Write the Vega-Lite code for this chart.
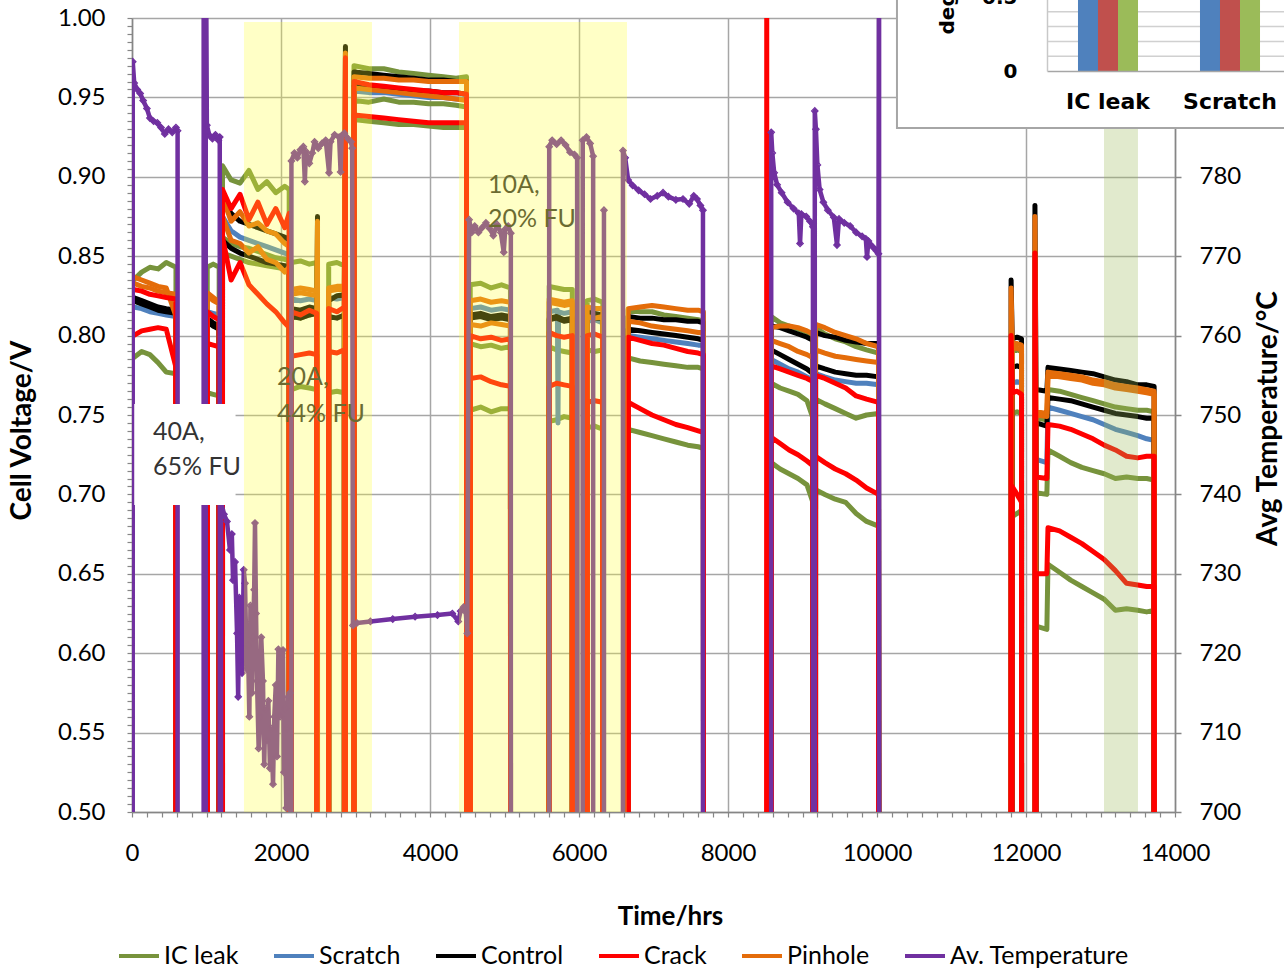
{
"$schema":"https://vega.github.io/schema/vega-lite/v6.json",
"width":1043,"height":794,
"autosize":{"type":"none"},
"padding":{"left":132,"top":18,"right":109,"bottom":159},
"background":"white",
"config":{"view":{"stroke":null},"font":"Lato"},
"datasets":{
"ICa":[{"t":20,"v":0.835},{"t":130,"v":0.840},{"t":240,"v":0.843},{"t":350,"v":0.842},{"t":460,"v":0.846},{"t":590,"v":0.843},{"t":800,"v":-100},
{"t":1010,"v":0.843},{"t":1090,"v":0.845},{"t":1170,"v":0.843},{"t":1190,"v":-100},
{"t":1215,"v":0.907},{"t":1330,"v":0.898},{"t":1450,"v":0.896},{"t":1570,"v":0.904},{"t":1690,"v":0.892},{"t":1810,"v":0.897},{"t":1930,"v":0.890},{"t":2050,"v":0.894},{"t":2110,"v":0.892},{"t":2125,"v":-100},
{"t":2140,"v":0.846},{"t":2260,"v":0.847},{"t":2380,"v":0.845},{"t":2480,"v":0.846},{"t":2560,"v":-100},
{"t":2640,"v":0.845},{"t":2750,"v":0.846},{"t":2850,"v":0.844},{"t":2920,"v":-100},
{"t":2980,"v":0.970},{"t":3180,"v":0.968},{"t":3380,"v":0.968},{"t":3580,"v":0.966},{"t":3780,"v":0.965},{"t":3980,"v":0.964},{"t":4180,"v":0.963},{"t":4350,"v":0.962},{"t":4490,"v":0.963},{"t":4515,"v":-100},
{"t":4540,"v":0.832},{"t":4680,"v":0.833},{"t":4820,"v":0.830},{"t":4960,"v":0.832},{"t":5080,"v":0.830},{"t":5340,"v":-100},
{"t":5600,"v":0.831},{"t":5700,"v":0.830},{"t":5800,"v":0.829},{"t":5910,"v":0.829},{"t":6000,"v":-100},
{"t":6110,"v":0.822},{"t":6210,"v":0.823},{"t":6320,"v":0.821},{"t":6490,"v":-100},
{"t":6660,"v":0.816},{"t":6820,"v":0.815},{"t":6980,"v":0.815},{"t":7140,"v":0.813},{"t":7300,"v":0.812},{"t":7460,"v":0.811},{"t":7600,"v":0.810},{"t":7670,"v":0.809},{"t":8100,"v":-100},
{"t":8580,"v":0.812},{"t":8700,"v":0.808},{"t":8820,"v":0.806},{"t":8940,"v":0.804},{"t":9060,"v":0.802},{"t":9140,"v":0.800},{"t":9158,"v":-100},
{"t":9175,"v":0.805},{"t":9300,"v":0.801},{"t":9440,"v":0.798},{"t":9580,"v":0.796},{"t":9720,"v":0.793},{"t":9860,"v":0.791},{"t":10020,"v":0.789},{"t":10900,"v":-100},
{"t":11815,"v":0.790},{"t":11880,"v":0.791},{"t":11940,"v":0.790},{"t":12030,"v":-100},
{"t":12135,"v":0.748},{"t":12280,"v":0.747},
{"t":12295,"v":0.766},{"t":12450,"v":0.765},{"t":12600,"v":0.763},{"t":12750,"v":0.761},{"t":12900,"v":0.759},{"t":13050,"v":0.757},{"t":13200,"v":0.755},{"t":13350,"v":0.754},{"t":13500,"v":0.753},{"t":13620,"v":0.753},{"t":13720,"v":0.752},{"t":13760,"v":-100}],
"ICb":[{"t":20,"v":0.822},{"t":130,"v":0.820},{"t":240,"v":0.818},{"t":350,"v":0.817},{"t":460,"v":0.816},{"t":590,"v":0.815},{"t":800,"v":-100},
{"t":1010,"v":0.809},{"t":1090,"v":0.806},{"t":1170,"v":0.805},{"t":1190,"v":-100},
{"t":1215,"v":0.862},{"t":1330,"v":0.858},{"t":1450,"v":0.856},{"t":1570,"v":0.855},{"t":1690,"v":0.853},{"t":1810,"v":0.851},{"t":1930,"v":0.849},{"t":2050,"v":0.848},{"t":2110,"v":0.847},{"t":2125,"v":-100},
{"t":2140,"v":0.812},{"t":2260,"v":0.811},{"t":2380,"v":0.813},{"t":2480,"v":0.814},{"t":2560,"v":-100},
{"t":2640,"v":0.822},{"t":2750,"v":0.825},{"t":2850,"v":0.826},{"t":2920,"v":-100},
{"t":2980,"v":0.948},{"t":3180,"v":0.947},{"t":3380,"v":0.949},{"t":3580,"v":0.947},{"t":3780,"v":0.947},{"t":3980,"v":0.946},{"t":4180,"v":0.946},{"t":4350,"v":0.945},{"t":4490,"v":0.944},{"t":4515,"v":-100},
{"t":4540,"v":0.795},{"t":4680,"v":0.793},{"t":4820,"v":0.794},{"t":4960,"v":0.792},{"t":5080,"v":0.793},{"t":5340,"v":-100},
{"t":5600,"v":0.793},{"t":5700,"v":0.791},{"t":5800,"v":0.790},{"t":5910,"v":0.789},{"t":6000,"v":-100},
{"t":6110,"v":0.791},{"t":6210,"v":0.790},{"t":6320,"v":0.791},{"t":6490,"v":-100},
{"t":6660,"v":0.786},{"t":6820,"v":0.784},{"t":6980,"v":0.783},{"t":7140,"v":0.782},{"t":7300,"v":0.781},{"t":7460,"v":0.780},{"t":7600,"v":0.780},{"t":7670,"v":0.779},{"t":8100,"v":-100},
{"t":8580,"v":0.770},{"t":8700,"v":0.767},{"t":8820,"v":0.765},{"t":8940,"v":0.763},{"t":9060,"v":0.759},{"t":9140,"v":0.748},{"t":9158,"v":-100},
{"t":9175,"v":0.760},{"t":9300,"v":0.757},{"t":9440,"v":0.754},{"t":9580,"v":0.751},{"t":9720,"v":0.748},{"t":9860,"v":0.750},{"t":10020,"v":0.751},{"t":10900,"v":-100},
{"t":11815,"v":0.751},{"t":11880,"v":0.752},{"t":11940,"v":0.751},{"t":12030,"v":-100},
{"t":12135,"v":0.701},{"t":12280,"v":0.700},
{"t":12295,"v":0.728},{"t":12450,"v":0.724},{"t":12600,"v":0.720},{"t":12750,"v":0.717},{"t":12900,"v":0.715},{"t":13050,"v":0.713},{"t":13200,"v":0.710},{"t":13350,"v":0.711},{"t":13500,"v":0.710},{"t":13620,"v":0.710},{"t":13720,"v":0.709},{"t":13760,"v":-100}],
"ICc":[{"t":20,"v":0.786},{"t":130,"v":0.790},{"t":240,"v":0.788},{"t":350,"v":0.783},{"t":460,"v":0.777},{"t":590,"v":0.776},{"t":800,"v":-100},
{"t":1010,"v":0.764},{"t":1090,"v":0.763},{"t":1170,"v":0.762},{"t":1190,"v":-100},
{"t":1215,"v":0.852},{"t":1330,"v":0.850},{"t":1450,"v":0.848},{"t":1570,"v":0.846},{"t":1690,"v":0.845},{"t":1810,"v":0.844},{"t":1930,"v":0.843},{"t":2050,"v":0.842},{"t":2110,"v":0.843},{"t":2125,"v":-100},
{"t":2140,"v":0.766},{"t":2260,"v":0.768},{"t":2380,"v":0.767},{"t":2480,"v":0.766},{"t":2560,"v":-100},
{"t":2640,"v":0.764},{"t":2750,"v":0.765},{"t":2850,"v":0.764},{"t":2920,"v":-100},
{"t":2980,"v":0.936},{"t":3180,"v":0.935},{"t":3380,"v":0.934},{"t":3580,"v":0.933},{"t":3780,"v":0.933},{"t":3980,"v":0.932},{"t":4180,"v":0.931},{"t":4350,"v":0.931},{"t":4490,"v":0.931},{"t":4515,"v":-100},
{"t":4540,"v":0.753},{"t":4680,"v":0.755},{"t":4820,"v":0.752},{"t":4960,"v":0.754},{"t":5080,"v":0.754},{"t":5340,"v":-100},
{"t":5600,"v":0.746},{"t":5700,"v":0.747},{"t":5800,"v":0.749},{"t":5910,"v":0.748},{"t":6000,"v":-100},
{"t":6110,"v":0.742},{"t":6210,"v":0.743},{"t":6320,"v":0.741},{"t":6490,"v":-100},
{"t":6660,"v":0.741},{"t":6820,"v":0.739},{"t":6980,"v":0.737},{"t":7140,"v":0.735},{"t":7300,"v":0.733},{"t":7460,"v":0.731},{"t":7600,"v":0.730},{"t":7670,"v":0.729},{"t":8100,"v":-100},
{"t":8580,"v":0.720},{"t":8700,"v":0.716},{"t":8820,"v":0.713},{"t":8940,"v":0.710},{"t":9060,"v":0.706},{"t":9140,"v":0.695},{"t":9158,"v":-100},
{"t":9175,"v":0.703},{"t":9300,"v":0.700},{"t":9440,"v":0.697},{"t":9580,"v":0.695},{"t":9720,"v":0.688},{"t":9860,"v":0.683},{"t":10020,"v":0.680},{"t":10900,"v":-100},
{"t":11815,"v":0.686},{"t":11880,"v":0.688},{"t":11940,"v":0.690},{"t":12030,"v":-100},
{"t":12135,"v":0.617},{"t":12280,"v":0.615},
{"t":12295,"v":0.656},{"t":12450,"v":0.651},{"t":12600,"v":0.646},{"t":12750,"v":0.642},{"t":12900,"v":0.638},{"t":13050,"v":0.634},{"t":13200,"v":0.627},{"t":13350,"v":0.628},{"t":13500,"v":0.627},{"t":13620,"v":0.626},{"t":13720,"v":0.627},{"t":13760,"v":-100}],
"SCa":[{"t":20,"v":0.818},{"t":130,"v":0.817},{"t":240,"v":0.815},{"t":350,"v":0.814},{"t":460,"v":0.813},{"t":590,"v":0.812},{"t":800,"v":-100},
{"t":1010,"v":0.815},{"t":1090,"v":0.814},{"t":1170,"v":0.813},{"t":1190,"v":-100},
{"t":1215,"v":0.875},{"t":1330,"v":0.866},{"t":1450,"v":0.862},{"t":1570,"v":0.860},{"t":1690,"v":0.858},{"t":1810,"v":0.856},{"t":1930,"v":0.854},{"t":2050,"v":0.852},{"t":2110,"v":0.851},{"t":2125,"v":-100},
{"t":2140,"v":0.823},{"t":2260,"v":0.822},{"t":2380,"v":0.823},{"t":2480,"v":0.822},{"t":2560,"v":-100},
{"t":2640,"v":0.824},{"t":2750,"v":0.823},{"t":2850,"v":0.824},{"t":2920,"v":-100},
{"t":2980,"v":0.954},{"t":3180,"v":0.953},{"t":3380,"v":0.953},{"t":3580,"v":0.952},{"t":3780,"v":0.951},{"t":3980,"v":0.950},{"t":4180,"v":0.950},{"t":4350,"v":0.949},{"t":4490,"v":0.949},{"t":4515,"v":-100},
{"t":4540,"v":0.817},{"t":4680,"v":0.818},{"t":4820,"v":0.816},{"t":4960,"v":0.817},{"t":5080,"v":0.816},{"t":5340,"v":-100},
{"t":5600,"v":0.815},{"t":5710,"v":0.816},{"t":5718,"v":0.745},{"t":5726,"v":0.815},{"t":5800,"v":0.814},{"t":5910,"v":0.815},{"t":6000,"v":-100},
{"t":6110,"v":0.809},{"t":6210,"v":0.810},{"t":6320,"v":0.808},{"t":6490,"v":-100},
{"t":6660,"v":0.800},{"t":6820,"v":0.799},{"t":6980,"v":0.798},{"t":7140,"v":0.797},{"t":7300,"v":0.796},{"t":7460,"v":0.795},{"t":7600,"v":0.794},{"t":7670,"v":0.794},{"t":8100,"v":-100},
{"t":8580,"v":0.785},{"t":8700,"v":0.782},{"t":8820,"v":0.779},{"t":8940,"v":0.777},{"t":9060,"v":0.774},{"t":9140,"v":0.772},{"t":9158,"v":-100},
{"t":9175,"v":0.776},{"t":9300,"v":0.774},{"t":9440,"v":0.772},{"t":9580,"v":0.771},{"t":9720,"v":0.770},{"t":9860,"v":0.770},{"t":10020,"v":0.769},{"t":10900,"v":-100},
{"t":11815,"v":0.770},{"t":11880,"v":0.771},{"t":11940,"v":0.770},{"t":12030,"v":-100},
{"t":12135,"v":0.722},{"t":12280,"v":0.720},
{"t":12295,"v":0.755},{"t":12450,"v":0.753},{"t":12600,"v":0.751},{"t":12750,"v":0.749},{"t":12900,"v":0.747},{"t":13050,"v":0.744},{"t":13200,"v":0.741},{"t":13350,"v":0.739},{"t":13500,"v":0.737},{"t":13620,"v":0.735},{"t":13720,"v":0.734},{"t":13760,"v":-100}],
"COa":[{"t":20,"v":0.824},{"t":130,"v":0.822},{"t":240,"v":0.820},{"t":350,"v":0.818},{"t":460,"v":0.817},{"t":590,"v":0.816},{"t":800,"v":-100},
{"t":1010,"v":0.811},{"t":1090,"v":0.808},{"t":1170,"v":0.806},{"t":1190,"v":-100},
{"t":1215,"v":0.885},{"t":1330,"v":0.877},{"t":1450,"v":0.872},{"t":1570,"v":0.870},{"t":1690,"v":0.868},{"t":1810,"v":0.866},{"t":1930,"v":0.864},{"t":2050,"v":0.862},{"t":2110,"v":0.860},{"t":2125,"v":-100},
{"t":2140,"v":0.812},{"t":2260,"v":0.811},{"t":2380,"v":0.813},{"t":2480,"v":0.814},{"t":2490,"v":0.875},{"t":2560,"v":-100},
{"t":2640,"v":0.822},{"t":2750,"v":0.825},{"t":2850,"v":0.826},{"t":2865,"v":0.982},{"t":2920,"v":-100},
{"t":2980,"v":0.966},{"t":3180,"v":0.965},{"t":3380,"v":0.964},{"t":3580,"v":0.963},{"t":3780,"v":0.962},{"t":3980,"v":0.961},{"t":4180,"v":0.961},{"t":4350,"v":0.960},{"t":4490,"v":0.960},{"t":4515,"v":-100},
{"t":4540,"v":0.811},{"t":4680,"v":0.812},{"t":4820,"v":0.810},{"t":4960,"v":0.811},{"t":5080,"v":0.810},{"t":5340,"v":-100},
{"t":5600,"v":0.810},{"t":5700,"v":0.811},{"t":5800,"v":0.809},{"t":5910,"v":0.810},{"t":6000,"v":-100},
{"t":6110,"v":0.815},{"t":6210,"v":0.814},{"t":6320,"v":0.813},{"t":6490,"v":-100},
{"t":6660,"v":0.812},{"t":6820,"v":0.811},{"t":6980,"v":0.811},{"t":7140,"v":0.810},{"t":7300,"v":0.810},{"t":7460,"v":0.809},{"t":7600,"v":0.809},{"t":7670,"v":0.808},{"t":8100,"v":-100},
{"t":8580,"v":0.806},{"t":8700,"v":0.805},{"t":8820,"v":0.803},{"t":8940,"v":0.801},{"t":9060,"v":0.799},{"t":9140,"v":0.797},{"t":9158,"v":-100},
{"t":9175,"v":0.802},{"t":9300,"v":0.800},{"t":9440,"v":0.799},{"t":9580,"v":0.797},{"t":9720,"v":0.796},{"t":9860,"v":0.795},{"t":10020,"v":0.795},{"t":10900,"v":-100},
{"t":11800,"v":0.835},{"t":11815,"v":0.798},{"t":11880,"v":0.799},{"t":11940,"v":0.798},{"t":12030,"v":-100},
{"t":12120,"v":0.882},{"t":12135,"v":0.766},{"t":12280,"v":0.765},
{"t":12295,"v":0.780},{"t":12450,"v":0.779},{"t":12600,"v":0.778},{"t":12750,"v":0.777},{"t":12900,"v":0.776},{"t":13050,"v":0.774},{"t":13200,"v":0.772},{"t":13350,"v":0.771},{"t":13500,"v":0.769},{"t":13620,"v":0.769},{"t":13720,"v":0.768},{"t":13760,"v":-100}],
"COb":[{"t":20,"v":0.822},{"t":130,"v":0.820},{"t":240,"v":0.818},{"t":350,"v":0.816},{"t":460,"v":0.815},{"t":590,"v":0.814},{"t":800,"v":-100},
{"t":1010,"v":0.809},{"t":1090,"v":0.806},{"t":1170,"v":0.804},{"t":1190,"v":-100},
{"t":1215,"v":0.860},{"t":1330,"v":0.855},{"t":1450,"v":0.852},{"t":1570,"v":0.850},{"t":1690,"v":0.848},{"t":1810,"v":0.846},{"t":1930,"v":0.845},{"t":2050,"v":0.844},{"t":2110,"v":0.843},{"t":2125,"v":-100},
{"t":2140,"v":0.817},{"t":2260,"v":0.816},{"t":2380,"v":0.818},{"t":2480,"v":0.817},{"t":2560,"v":-100},
{"t":2640,"v":0.812},{"t":2750,"v":0.811},{"t":2850,"v":0.813},{"t":2920,"v":-100},
{"t":2980,"v":0.957},{"t":3180,"v":0.956},{"t":3380,"v":0.956},{"t":3580,"v":0.955},{"t":3780,"v":0.954},{"t":3980,"v":0.954},{"t":4180,"v":0.953},{"t":4350,"v":0.953},{"t":4490,"v":0.952},{"t":4515,"v":-100},
{"t":4540,"v":0.813},{"t":4680,"v":0.814},{"t":4820,"v":0.812},{"t":4960,"v":0.813},{"t":5080,"v":0.812},{"t":5340,"v":-100},
{"t":5600,"v":0.811},{"t":5700,"v":0.812},{"t":5800,"v":0.810},{"t":5910,"v":0.811},{"t":6000,"v":-100},
{"t":6110,"v":0.812},{"t":6210,"v":0.811},{"t":6320,"v":0.811},{"t":6490,"v":-100},
{"t":6660,"v":0.804},{"t":6820,"v":0.803},{"t":6980,"v":0.802},{"t":7140,"v":0.801},{"t":7300,"v":0.800},{"t":7460,"v":0.799},{"t":7600,"v":0.798},{"t":7670,"v":0.797},{"t":8100,"v":-100},
{"t":8580,"v":0.791},{"t":8700,"v":0.788},{"t":8820,"v":0.785},{"t":8940,"v":0.782},{"t":9060,"v":0.779},{"t":9140,"v":0.776},{"t":9158,"v":-100},
{"t":9175,"v":0.781},{"t":9300,"v":0.779},{"t":9440,"v":0.777},{"t":9580,"v":0.776},{"t":9720,"v":0.775},{"t":9860,"v":0.775},{"t":10020,"v":0.774},{"t":10900,"v":-100},
{"t":11815,"v":0.780},{"t":11880,"v":0.781},{"t":11940,"v":0.780},{"t":12030,"v":-100},
{"t":12135,"v":0.745},{"t":12280,"v":0.743},
{"t":12295,"v":0.761},{"t":12450,"v":0.760},{"t":12600,"v":0.759},{"t":12750,"v":0.757},{"t":12900,"v":0.755},{"t":13050,"v":0.753},{"t":13200,"v":0.751},{"t":13350,"v":0.750},{"t":13500,"v":0.749},{"t":13620,"v":0.748},{"t":13720,"v":0.748},{"t":13760,"v":-100}],
"PHa":[{"t":20,"v":0.837},{"t":130,"v":0.835},{"t":240,"v":0.833},{"t":350,"v":0.831},{"t":460,"v":0.830},{"t":590,"v":0.812},{"t":800,"v":-100},
{"t":1010,"v":0.827},{"t":1090,"v":0.824},{"t":1170,"v":0.821},{"t":1190,"v":-100},
{"t":1215,"v":0.887},{"t":1330,"v":0.872},{"t":1450,"v":0.878},{"t":1570,"v":0.869},{"t":1690,"v":0.871},{"t":1810,"v":0.866},{"t":1930,"v":0.864},{"t":2050,"v":0.858},{"t":2110,"v":0.856},{"t":2125,"v":-100},
{"t":2140,"v":0.829},{"t":2260,"v":0.830},{"t":2380,"v":0.829},{"t":2480,"v":0.828},{"t":2490,"v":0.872},{"t":2560,"v":-100},
{"t":2640,"v":0.830},{"t":2750,"v":0.831},{"t":2850,"v":0.831},{"t":2865,"v":0.978},{"t":2920,"v":-100},
{"t":2980,"v":0.963},{"t":3180,"v":0.962},{"t":3380,"v":0.962},{"t":3580,"v":0.961},{"t":3780,"v":0.961},{"t":3980,"v":0.960},{"t":4180,"v":0.960},{"t":4350,"v":0.960},{"t":4490,"v":0.960},{"t":4515,"v":-100},
{"t":4540,"v":0.822},{"t":4680,"v":0.823},{"t":4820,"v":0.821},{"t":4960,"v":0.822},{"t":5080,"v":0.821},{"t":5340,"v":-100},
{"t":5600,"v":0.823},{"t":5700,"v":0.822},{"t":5800,"v":0.821},{"t":5910,"v":0.822},{"t":6000,"v":-100},
{"t":6110,"v":0.818},{"t":6210,"v":0.817},{"t":6320,"v":0.817},{"t":6490,"v":-100},
{"t":6660,"v":0.817},{"t":6820,"v":0.818},{"t":6980,"v":0.819},{"t":7140,"v":0.818},{"t":7300,"v":0.817},{"t":7460,"v":0.816},{"t":7600,"v":0.816},{"t":7670,"v":0.815},{"t":8100,"v":-100},
{"t":8580,"v":0.805},{"t":8700,"v":0.806},{"t":8820,"v":0.806},{"t":8940,"v":0.805},{"t":9060,"v":0.803},{"t":9140,"v":0.801},{"t":9158,"v":-100},
{"t":9175,"v":0.807},{"t":9300,"v":0.805},{"t":9440,"v":0.802},{"t":9580,"v":0.800},{"t":9720,"v":0.798},{"t":9860,"v":0.795},{"t":10020,"v":0.793},{"t":10900,"v":-100},
{"t":11800,"v":0.830},{"t":11815,"v":0.795},{"t":11880,"v":0.795},{"t":11940,"v":0.794},{"t":12030,"v":-100},
{"t":12120,"v":0.875},{"t":12135,"v":0.752},{"t":12280,"v":0.751},
{"t":12295,"v":0.777},{"t":12450,"v":0.776},{"t":12600,"v":0.775},{"t":12750,"v":0.774},{"t":12900,"v":0.772},{"t":13050,"v":0.771},{"t":13200,"v":0.769},{"t":13350,"v":0.768},{"t":13500,"v":0.767},{"t":13620,"v":0.766},{"t":13720,"v":0.765},{"t":13760,"v":-100}],
"PHb":[{"t":20,"v":0.833},{"t":130,"v":0.831},{"t":240,"v":0.830},{"t":350,"v":0.828},{"t":460,"v":0.827},{"t":590,"v":0.826},{"t":800,"v":-100},
{"t":1010,"v":0.825},{"t":1090,"v":0.822},{"t":1170,"v":0.820},{"t":1190,"v":-100},
{"t":1215,"v":0.875},{"t":1330,"v":0.860},{"t":1450,"v":0.858},{"t":1570,"v":0.852},{"t":1690,"v":0.856},{"t":1810,"v":0.848},{"t":1930,"v":0.846},{"t":2050,"v":0.840},{"t":2110,"v":0.843},{"t":2125,"v":-100},
{"t":2140,"v":0.826},{"t":2260,"v":0.827},{"t":2380,"v":0.826},{"t":2480,"v":0.825},{"t":2560,"v":-100},
{"t":2640,"v":0.828},{"t":2750,"v":0.829},{"t":2850,"v":0.829},{"t":2920,"v":-100},
{"t":2980,"v":0.956},{"t":3180,"v":0.955},{"t":3380,"v":0.954},{"t":3580,"v":0.953},{"t":3780,"v":0.952},{"t":3980,"v":0.951},{"t":4180,"v":0.950},{"t":4350,"v":0.949},{"t":4490,"v":0.948},{"t":4515,"v":-100},
{"t":4540,"v":0.807},{"t":4680,"v":0.806},{"t":4820,"v":0.808},{"t":4960,"v":0.807},{"t":5080,"v":0.806},{"t":5340,"v":-100},
{"t":5600,"v":0.821},{"t":5700,"v":0.820},{"t":5800,"v":0.819},{"t":5910,"v":0.820},{"t":6000,"v":-100},
{"t":6110,"v":0.812},{"t":6210,"v":0.811},{"t":6320,"v":0.812},{"t":6490,"v":-100},
{"t":6660,"v":0.809},{"t":6820,"v":0.808},{"t":6980,"v":0.806},{"t":7140,"v":0.805},{"t":7300,"v":0.804},{"t":7460,"v":0.803},{"t":7600,"v":0.802},{"t":7670,"v":0.802},{"t":8100,"v":-100},
{"t":8580,"v":0.797},{"t":8700,"v":0.795},{"t":8820,"v":0.793},{"t":8940,"v":0.790},{"t":9060,"v":0.788},{"t":9140,"v":0.786},{"t":9158,"v":-100},
{"t":9175,"v":0.791},{"t":9300,"v":0.789},{"t":9440,"v":0.787},{"t":9580,"v":0.786},{"t":9720,"v":0.785},{"t":9860,"v":0.784},{"t":10020,"v":0.783},{"t":10900,"v":-100},
{"t":11815,"v":0.792},{"t":11880,"v":0.792},{"t":11940,"v":0.791},{"t":12030,"v":-100},
{"t":12135,"v":0.750},{"t":12280,"v":0.749},
{"t":12295,"v":0.775},{"t":12450,"v":0.774},{"t":12600,"v":0.773},{"t":12750,"v":0.772},{"t":12900,"v":0.770},{"t":13050,"v":0.769},{"t":13200,"v":0.767},{"t":13350,"v":0.766},{"t":13500,"v":0.765},{"t":13620,"v":0.764},{"t":13720,"v":0.763},{"t":13760,"v":-100}],
"CRa":[{"t":20,"v":0.829},{"t":130,"v":0.828},{"t":240,"v":0.826},{"t":350,"v":0.825},{"t":460,"v":0.824},{"t":590,"v":0.823},{"t":800,"v":-100},
{"t":1010,"v":0.815},{"t":1090,"v":0.812},{"t":1170,"v":0.810},{"t":1190,"v":-100},
{"t":1215,"v":0.892},{"t":1330,"v":0.880},{"t":1450,"v":0.889},{"t":1570,"v":0.873},{"t":1690,"v":0.884},{"t":1810,"v":0.870},{"t":1930,"v":0.880},{"t":2050,"v":0.868},{"t":2110,"v":0.877},{"t":2125,"v":-100},
{"t":2140,"v":0.815},{"t":2260,"v":0.813},{"t":2380,"v":0.816},{"t":2480,"v":0.814},{"t":2560,"v":-100},
{"t":2640,"v":0.817},{"t":2750,"v":0.815},{"t":2850,"v":0.818},{"t":2865,"v":0.975},{"t":2920,"v":-100},
{"t":2980,"v":0.960},{"t":3180,"v":0.958},{"t":3380,"v":0.957},{"t":3580,"v":0.956},{"t":3780,"v":0.955},{"t":3980,"v":0.954},{"t":4180,"v":0.953},{"t":4350,"v":0.953},{"t":4490,"v":0.952},{"t":4515,"v":-100},
{"t":4540,"v":0.800},{"t":4680,"v":0.798},{"t":4820,"v":0.799},{"t":4960,"v":0.797},{"t":5080,"v":0.798},{"t":5340,"v":-100},
{"t":5600,"v":0.802},{"t":5700,"v":0.800},{"t":5800,"v":0.799},{"t":5910,"v":0.800},{"t":6000,"v":-100},
{"t":6110,"v":0.800},{"t":6210,"v":0.801},{"t":6320,"v":0.799},{"t":6490,"v":-100},
{"t":6660,"v":0.799},{"t":6820,"v":0.797},{"t":6980,"v":0.795},{"t":7140,"v":0.794},{"t":7300,"v":0.792},{"t":7460,"v":0.790},{"t":7600,"v":0.789},{"t":7670,"v":0.788},{"t":8100,"v":-100},
{"t":8520,"v":1.05},{"t":8550,"v":-100},
{"t":8580,"v":0.781},{"t":8700,"v":0.779},{"t":8820,"v":0.777},{"t":8940,"v":0.775},{"t":9060,"v":0.773},{"t":9140,"v":0.771},{"t":9158,"v":-100},
{"t":9175,"v":0.775},{"t":9300,"v":0.773},{"t":9440,"v":0.770},{"t":9580,"v":0.767},{"t":9720,"v":0.762},{"t":9860,"v":0.760},{"t":10020,"v":0.758},{"t":10900,"v":-100},
{"t":11800,"v":0.800},{"t":11815,"v":0.764},{"t":11880,"v":0.765},{"t":11940,"v":0.763},{"t":12030,"v":-100},
{"t":12120,"v":0.852},{"t":12135,"v":0.711},{"t":12280,"v":0.710},
{"t":12295,"v":0.744},{"t":12450,"v":0.743},{"t":12600,"v":0.741},{"t":12750,"v":0.738},{"t":12900,"v":0.735},{"t":13050,"v":0.731},{"t":13200,"v":0.728},{"t":13350,"v":0.724},{"t":13500,"v":0.723},{"t":13620,"v":0.724},{"t":13720,"v":0.724},{"t":13760,"v":-100}],
"CRb":[{"t":20,"v":0.800},{"t":130,"v":0.803},{"t":240,"v":0.804},{"t":350,"v":0.805},{"t":460,"v":0.804},{"t":590,"v":0.780},{"t":800,"v":-100},
{"t":1010,"v":0.795},{"t":1090,"v":0.794},{"t":1170,"v":0.793},{"t":1190,"v":-100},
{"t":1215,"v":0.862},{"t":1330,"v":0.835},{"t":1450,"v":0.846},{"t":1570,"v":0.832},{"t":1690,"v":0.826},{"t":1810,"v":0.820},{"t":1930,"v":0.815},{"t":2050,"v":0.808},{"t":2110,"v":0.805},{"t":2125,"v":-100},
{"t":2140,"v":0.787},{"t":2260,"v":0.788},{"t":2380,"v":0.789},{"t":2480,"v":0.788},{"t":2560,"v":-100},
{"t":2640,"v":0.790},{"t":2750,"v":0.789},{"t":2850,"v":0.791},{"t":2920,"v":-100},
{"t":2980,"v":0.939},{"t":3180,"v":0.938},{"t":3380,"v":0.937},{"t":3580,"v":0.936},{"t":3780,"v":0.935},{"t":3980,"v":0.934},{"t":4180,"v":0.934},{"t":4350,"v":0.934},{"t":4490,"v":0.934},{"t":4515,"v":-100},
{"t":4540,"v":0.773},{"t":4680,"v":0.774},{"t":4820,"v":0.771},{"t":4960,"v":0.769},{"t":5080,"v":0.768},{"t":5340,"v":-100},
{"t":5600,"v":0.768},{"t":5700,"v":0.770},{"t":5800,"v":0.769},{"t":5910,"v":0.768},{"t":6000,"v":-100},
{"t":6110,"v":0.758},{"t":6210,"v":0.759},{"t":6320,"v":0.758},{"t":6490,"v":-100},
{"t":6660,"v":0.758},{"t":6820,"v":0.754},{"t":6980,"v":0.750},{"t":7140,"v":0.747},{"t":7300,"v":0.744},{"t":7460,"v":0.742},{"t":7600,"v":0.740},{"t":7670,"v":0.739},{"t":8100,"v":-100},
{"t":8580,"v":0.736},{"t":8700,"v":0.732},{"t":8820,"v":0.728},{"t":8940,"v":0.725},{"t":9060,"v":0.721},{"t":9140,"v":0.718},{"t":9158,"v":-100},
{"t":9175,"v":0.724},{"t":9300,"v":0.720},{"t":9440,"v":0.716},{"t":9580,"v":0.713},{"t":9720,"v":0.709},{"t":9860,"v":0.704},{"t":10020,"v":0.700},{"t":10900,"v":-100},
{"t":11815,"v":0.705},{"t":11880,"v":0.700},{"t":11940,"v":0.695},{"t":12030,"v":-100},
{"t":12135,"v":0.650},{"t":12280,"v":0.650},
{"t":12295,"v":0.679},{"t":12450,"v":0.677},{"t":12600,"v":0.673},{"t":12750,"v":0.669},{"t":12900,"v":0.664},{"t":13050,"v":0.659},{"t":13200,"v":0.652},{"t":13350,"v":0.644},{"t":13500,"v":0.643},{"t":13620,"v":0.642},{"t":13720,"v":0.642},{"t":13760,"v":-100}],
"temp":[{"t":0,"T":-5000},{"t":10,"T":794.5},{"t":30,"T":791.8},{"t":70,"T":791.0},{"t":110,"T":790.5},{"t":150,"T":789.6},{"t":200,"T":788.6},{"t":240,"T":787.4},{"t":290,"T":787.0},{"t":340,"T":786.8},{"t":390,"T":786.2},{"t":440,"T":785.4},{"t":490,"T":786.0},{"t":540,"T":785.6},{"t":590,"T":786.2},{"t":612,"T":785.8},{"t":620,"T":-5000},
{"t":950,"T":-5000},{"t":962,"T":816},{"t":975,"T":-5000},{"t":990,"T":816},{"t":1005,"T":786.5},{"t":1040,"T":785.2},{"t":1080,"T":784.8},{"t":1120,"T":785.3},{"t":1160,"T":784.6},{"t":1178,"T":785.0},{"t":1185,"T":-5000},
{"t":1195,"T":739.0},{"t":1235,"T":737.5},{"t":1275,"T":736.6},{"t":1315,"T":733.0},{"t":1340,"T":735.0},{"t":1356,"T":729.2},{"t":1383,"T":731.5},{"t":1410,"T":722.5},{"t":1425,"T":714.5},{"t":1440,"T":727.0},{"t":1460,"T":719.0},{"t":1477,"T":717.5},{"t":1500,"T":730.5},{"t":1517,"T":728.8},{"t":1540,"T":718.0},{"t":1557,"T":721.0},{"t":1575,"T":712.0},{"t":1590,"T":726.0},{"t":1610,"T":715.0},{"t":1624,"T":722.0},{"t":1640,"T":728.0},{"t":1651,"T":736.4},{"t":1665,"T":725.0},{"t":1678,"T":716.5},{"t":1700,"T":708.0},{"t":1718,"T":712.0},{"t":1735,"T":722.0},{"t":1758,"T":716.5},{"t":1775,"T":706.0},{"t":1790,"T":713.0},{"t":1812,"T":709.0},{"t":1830,"T":714.0},{"t":1852,"T":705.5},{"t":1870,"T":710.5},{"t":1893,"T":703.5},{"t":1910,"T":712.0},{"t":1930,"T":716.0},{"t":1946,"T":707.0},{"t":1965,"T":720.5},{"t":1987,"T":712.0},{"t":2005,"T":719.5},{"t":2027,"T":720.4},{"t":2040,"T":705.0},{"t":2054,"T":713.0},{"t":2070,"T":700.5},{"t":2081,"T":710.5},{"t":2095,"T":714.5},{"t":2107,"T":702.5},{"t":2120,"T":715.0},{"t":2128,"T":-5000},
{"t":2140,"T":782.0},{"t":2180,"T":783.0},{"t":2220,"T":782.4},{"t":2260,"T":783.4},{"t":2300,"T":783.8},{"t":2320,"T":779.4},{"t":2335,"T":783.2},{"t":2380,"T":781.7},{"t":2420,"T":783.0},{"t":2450,"T":784.4},{"t":2500,"T":783.6},{"t":2550,"T":784.2},{"t":2600,"T":784.6},{"t":2645,"T":780.5},{"t":2665,"T":784.4},{"t":2720,"T":785.3},{"t":2780,"T":785.0},{"t":2800,"T":780.6},{"t":2815,"T":785.2},{"t":2850,"T":785.5},{"t":2900,"T":784.8},{"t":2940,"T":784.4},{"t":2955,"T":783.6},{"t":2965,"T":723.5},{"t":3020,"T":723.8},{"t":3200,"T":724.0},{"t":3500,"T":724.3},{"t":3800,"T":724.6},{"t":4100,"T":724.8},{"t":4300,"T":725.0},{"t":4380,"T":724.0},{"t":4410,"T":725.3},{"t":4450,"T":725.8},{"t":4480,"T":725.2},{"t":4500,"T":722.5},
{"t":4525,"T":774.6},{"t":4560,"T":773.0},{"t":4600,"T":773.8},{"t":4650,"T":773.0},{"t":4700,"T":773.6},{"t":4750,"T":774.2},{"t":4800,"T":773.5},{"t":4850,"T":772.6},{"t":4900,"T":774.0},{"t":4950,"T":773.0},{"t":4990,"T":770.5},{"t":5010,"T":773.4},{"t":5050,"T":773.8},{"t":5085,"T":772.9},{"t":5095,"T":-5000},
{"t":5590,"T":-5000},{"t":5600,"T":783.8},{"t":5640,"T":784.6},{"t":5700,"T":784.1},{"t":5760,"T":784.6},{"t":5820,"T":784.0},{"t":5880,"T":783.1},{"t":5940,"T":782.8},{"t":5975,"T":782.4},{"t":5985,"T":-5000},
{"t":6040,"T":-5000},{"t":6050,"T":784.6},{"t":6100,"T":785.0},{"t":6150,"T":784.2},{"t":6190,"T":782.6},{"t":6200,"T":-5000},
{"t":6320,"T":-5000},{"t":6335,"T":775.8},{"t":6350,"T":-5000},
{"t":6580,"T":-5000},{"t":6590,"T":783.3},{"t":6620,"T":782.4},{"t":6660,"T":779.6},{"t":6720,"T":778.9},{"t":6800,"T":778.3},{"t":6880,"T":777.8},{"t":6960,"T":777.2},{"t":7050,"T":777.6},{"t":7128,"T":778.0},{"t":7200,"T":777.5},{"t":7300,"T":777.1},{"t":7396,"T":777.2},{"t":7480,"T":776.6},{"t":7540,"T":777.6},{"t":7584,"T":777.2},{"t":7630,"T":776.4},{"t":7664,"T":775.8},{"t":7680,"T":-5000},
{"t":8570,"T":-5000},{"t":8580,"T":785.6},{"t":8595,"T":783.0},{"t":8620,"T":780.5},{"t":8660,"T":779.0},{"t":8720,"T":778.0},{"t":8800,"T":776.8},{"t":8880,"T":776.0},{"t":8950,"T":775.4},{"t":8967,"T":771.6},{"t":8985,"T":775.3},{"t":9050,"T":775.0},{"t":9100,"T":774.4},{"t":9140,"T":773.7},{"t":9150,"T":-5000},
{"t":9165,"T":788.3},{"t":9180,"T":786.0},{"t":9200,"T":781.5},{"t":9230,"T":778.4},{"t":9280,"T":776.8},{"t":9340,"T":775.8},{"t":9420,"T":774.9},{"t":9463,"T":771.4},{"t":9490,"T":774.7},{"t":9560,"T":774.2},{"t":9640,"T":773.8},{"t":9720,"T":773.0},{"t":9800,"T":772.5},{"t":9850,"T":772.2},{"t":9866,"T":769.9},{"t":9885,"T":771.9},{"t":9940,"T":771.2},{"t":9990,"T":770.7},{"t":10020,"T":770.3},{"t":10028,"T":816},{"t":10036,"T":-5000}],
"notes":[{"label":"40A,","t":282,"v":0.7393},{"label":"65% FU","t":282,"v":0.7173},{"label":"20A,","t":1946,"v":0.7739},{"label":"44% FU","t":1946,"v":0.7506},{"label":"10A,","t":4779,"v":0.8948},{"label":"20% FU","t":4779,"v":0.8734}],
"insetgrid":[{"defect":"IC leak","g":0.1},{"defect":"IC leak","g":0.2},{"defect":"IC leak","g":0.3},{"defect":"IC leak","g":0.4},{"defect":"Scratch","g":0.1},{"defect":"Scratch","g":0.2},{"defect":"Scratch","g":0.3},{"defect":"Scratch","g":0.4}],
"insetbars":[{"defect":"IC leak","test":"a","value":0.7},{"defect":"IC leak","test":"b","value":0.7},{"defect":"IC leak","test":"c","value":0.7},{"defect":"Scratch","test":"a","value":0.7},{"defect":"Scratch","test":"b","value":0.7},{"defect":"Scratch","test":"c","value":0.7}]
},
"layer":[
{
"layer":[
{
"encoding":{
"x":{"field":"t","type":"quantitative","scale":{"domain":[0,14000],"nice":false,"zero":false},
"axis":{"orient":"bottom","values":[0,2000,4000,6000,8000,10000,12000,14000],"format":"d","grid":true,"gridColor":"#A6A6A6","gridWidth":1.5,"ticks":false,"domainColor":"#868686","domainWidth":1.5,"labelFont":"Lato","labelFontSize":24,"labelColor":"#000","labelPadding":29,"labelFlush":false,"title":"Time/hrs","titleFont":"Lato","titleFontSize":26,"titleFontWeight":"bold","titleColor":"#000","titleX":538,"titleY":104,"titleBaseline":"middle","titleAlign":"center"}},
"y":{"field":"v","type":"quantitative","scale":{"domain":[0.5,1],"nice":false,"zero":false},
"axis":{"orient":"left","values":[0.5,0.55,0.6,0.65,0.7,0.75,0.8,0.85,0.9,0.95,1.0],"format":".2f","grid":true,"gridColor":"#A6A6A6","gridWidth":1.5,"ticks":false,"domainColor":"#868686","domainWidth":1.5,"labelFont":"Lato","labelFontSize":24,"labelColor":"#000","labelPadding":27,"title":"Cell Voltage/V","titleFont":"Lato","titleFontSize":28,"titleFontWeight":"bold","titleColor":"#000","titleAngle":270,"titleX":-110,"titleY":412,"titleBaseline":"middle","titleAlign":"center"}}
},
"layer":[
{"data":{"name":"ICa"},"mark":{"type":"line","clip":true,"strokeWidth":5,"strokeJoin":"round"},"encoding":{"color":{"datum":"IC leak","type":"nominal","scale":{"domain":["IC leak","Scratch","Control","Crack","Pinhole","Av. Temperature"],"range":["#77933C","#4F81BD","#000000","#FF0000","#E46C0A","#7030A0"]},
"legend":{"orient":"none","legendX":-15,"legendY":916,"direction":"horizontal","columns":6,"title":null,"symbolType":"stroke","symbolSize":1600,"symbolStrokeWidth":4,"labelFont":"Lato","labelFontSize":25,"labelColor":"#000","labelOffset":3,"columnPadding":27,"labelLimit":400}}}},
{"data":{"name":"ICb"},"mark":{"type":"line","clip":true,"strokeWidth":5,"strokeJoin":"round"},"encoding":{"color":{"datum":"IC leak","type":"nominal"}}},
{"data":{"name":"ICc"},"mark":{"type":"line","clip":true,"strokeWidth":5,"strokeJoin":"round"},"encoding":{"color":{"datum":"IC leak","type":"nominal"}}},
{"data":{"name":"SCa"},"mark":{"type":"line","clip":true,"strokeWidth":5,"strokeJoin":"round"},"encoding":{"color":{"datum":"Scratch","type":"nominal"}}},
{"data":{"name":"COa"},"mark":{"type":"line","clip":true,"strokeWidth":5,"strokeJoin":"round"},"encoding":{"color":{"datum":"Control","type":"nominal"}}},
{"data":{"name":"COb"},"mark":{"type":"line","clip":true,"strokeWidth":5,"strokeJoin":"round"},"encoding":{"color":{"datum":"Control","type":"nominal"}}},
{"data":{"name":"PHa"},"mark":{"type":"line","clip":true,"strokeWidth":5,"strokeJoin":"round"},"encoding":{"color":{"datum":"Pinhole","type":"nominal"}}},
{"data":{"name":"PHb"},"mark":{"type":"line","clip":true,"strokeWidth":5,"strokeJoin":"round"},"encoding":{"color":{"datum":"Pinhole","type":"nominal"}}},
{"data":{"name":"CRa"},"mark":{"type":"line","clip":true,"strokeWidth":5,"strokeJoin":"round"},"encoding":{"color":{"datum":"Crack","type":"nominal"}}},
{"data":{"name":"CRb"},"mark":{"type":"line","clip":true,"strokeWidth":5,"strokeJoin":"round"},"encoding":{"color":{"datum":"Crack","type":"nominal"}}}
]
},
{
"data":{"name":"temp"},
"mark":{"type":"line","clip":true,"strokeWidth":4.5,"strokeJoin":"round","point":{"shape":"diamond","filled":false,"size":40,"strokeWidth":1.3}},
"encoding":{
"x":{"field":"t","type":"quantitative","axis":{"orient":"bottom","tickCount":70,"labels":false,"domain":false,"grid":false,"ticks":true,"tickSize":5,"tickColor":"#868686","tickWidth":1.2,"title":null}},
"y":{"field":"T","type":"quantitative","scale":{"domain":[700,800],"nice":false,"zero":false},
"axis":{"orient":"right","values":[700,710,720,730,740,750,760,770,780],"grid":false,"ticks":true,"tickSize":6,"tickColor":"#868686","tickWidth":1.5,"domainColor":"#868686","domainWidth":1.5,"labelFont":"Lato","labelFontSize":24,"labelColor":"#000","labelPadding":18,"title":"Avg Temperature/°C","titleFont":"Lato","titleFontSize":28,"titleFontWeight":"bold","titleColor":"#000","titleAngle":270,"titleX":93,"titleY":400,"titleBaseline":"middle","titleAlign":"center"}},
"color":{"datum":"Av. Temperature","type":"nominal"}
}
},
{
"layer":[
{"data":{"values":[{"t0":30,"t1":1390,"v0":0.6933,"v1":0.757}]},"mark":{"type":"rect","fill":"white"},
"encoding":{"x":{"field":"t0","type":"quantitative","axis":null},"x2":{"field":"t1"},
"y":{"field":"v0","type":"quantitative","scale":{"domain":[0.5,1],"nice":false,"zero":false},"axis":{"orient":"left","tickCount":100,"labels":false,"domain":false,"grid":false,"ticks":true,"tickSize":5,"tickColor":"#868686","tickWidth":1.2,"title":null}},"y2":{"field":"v1"}}},
{"data":{"name":"notes"},"mark":{"type":"text","align":"left","baseline":"middle","font":"Lato","fontSize":25,"color":"#333333"},
"encoding":{"x":{"field":"t","type":"quantitative","axis":null},"y":{"field":"v","type":"quantitative"},"text":{"field":"label"}}}
]
},
{
"layer":[
{"data":{"values":[{"start":1503,"end":3221},{"start":4389,"end":6644}]},"mark":{"type":"rect","fill":"#FFFF33","opacity":0.28},
"encoding":{"x":{"field":"start","type":"quantitative","axis":null},"x2":{"field":"end"},"y":{"datum":0.5,"type":"quantitative","scale":{"domain":[0.5,1],"nice":false,"zero":false},"axis":null},"y2":{"datum":0.9975}}},
{"data":{"values":[{"start":13047,"end":13503}]},"mark":{"type":"rect","fill":"#9BBB59","opacity":0.3},
"encoding":{"x":{"field":"start","type":"quantitative","axis":null},"x2":{"field":"end"},"y":{"datum":0.5,"type":"quantitative"},"y2":{"datum":1.0}}}
]
},
{"data":{"values":[{"t0":10268,"t1":15600,"v0":0.9307,"v1":1.05}]},"mark":{"type":"rect","fill":"white","stroke":"#A6A6A6","strokeWidth":2},
"encoding":{"x":{"field":"t0","type":"quantitative","axis":null},"x2":{"field":"t1"},"y":{"field":"v0","type":"quantitative","scale":{"domain":[0.5,1],"nice":false,"zero":false},"axis":null},"y2":{"field":"v1"}}}
],
"resolve":{"scale":{"y":"independent"},"axis":{"x":"independent","y":"independent"}}
},
{
"layer":[
{"data":{"name":"insetgrid"},"mark":{"type":"tick","color":"#D0D0D0","thickness":1.5,"size":122,"opacity":1},
"encoding":{
"x":{"field":"defect","type":"nominal","scale":{"domain":["IC leak","Scratch"],"range":[915,1159],"paddingInner":0.508,"paddingOuter":0.254},
"axis":{"orient":"bottom","offset":-741,"zindex":1,"ticks":false,"grid":false,"domainColor":"#A6A6A6","domainWidth":1.5,"labelFont":"DejaVu Sans","labelFontWeight":"bold","labelFontSize":22,"labelPadding":20,"labelAngle":0,"labelColor":"#000","title":null}},
"y":{"field":"g","type":"quantitative","scale":{"domain":[0,0.5],"range":[53,-21],"nice":false,"zero":true},
"axis":{"orient":"left","offset":-915,"zindex":1,"values":[0,0.5],"labelExpr":"datum.value == 0 ? '0' : '0.5'","grid":false,"ticks":false,"domainColor":"#C8C8C8","domainWidth":1.5,"labelFont":"DejaVu Sans","labelFontWeight":"bold","labelFontSize":20,"labelPadding":30,"labelColor":"#000","title":"degradation rate","titleFont":"DejaVu Sans","titleFontSize":20,"titleFontWeight":"bold","titleColor":"#000","titleAngle":270,"titleX":-100,"titleY":16,"titleAlign":"left","titleBaseline":"middle"}}
}},
{"data":{"name":"insetbars"},"mark":{"type":"bar"},
"encoding":{
"x":{"field":"defect","type":"nominal"},
"xOffset":{"field":"test","type":"nominal"},
"y":{"field":"value","type":"quantitative"},
"color":{"field":"test","type":"nominal","scale":{"domain":["a","b","c"],"range":["#4F81BD","#C0504D","#9BBB59"]},"legend":null}
}}
]
}
],
"resolve":{"scale":{"x":"independent","y":"independent","color":"independent"},"axis":{"x":"independent","y":"independent"}}
}
